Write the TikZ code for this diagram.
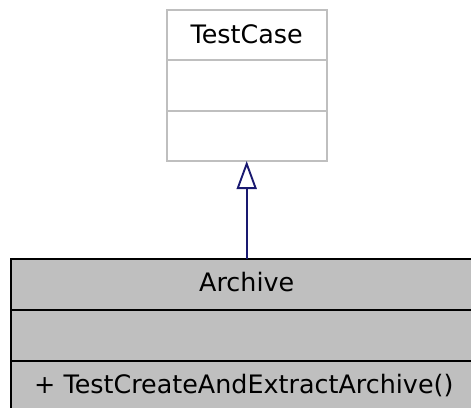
\documentclass[tikz,border=0pt]{standalone}
\usepackage{fontspec}
\setmainfont{DejaVu Sans}
\usetikzlibrary{arrows.meta}
\definecolor{boxgray}{HTML}{BFBFBF}
\definecolor{edgeblue}{HTML}{191970}
\begin{document}
\begin{tikzpicture}[x=1bp,y=-1bp,
  comp/.style={rectangle, anchor=north west, inner sep=0pt, outer sep=0pt},
  basecomp/.style={comp, draw=boxgray, fill=white, line width=1.9bp},
  derivcomp/.style={comp, draw=black, fill=boxgray, line width=1.9bp},
  lbl/.style={font=\fontsize{25.4bp}{29bp}\selectfont, inner sep=0pt, anchor=base},
  inherit/.style={draw=edgeblue, line width=1.9bp, -{Triangle[open, width=20bp, length=28bp, line width=1.9bp]}}]
\useasboundingbox (0,0) rectangle (471,407);
\clip (0,0) rectangle (471,407);
% TestCase
\node[basecomp, minimum width=160bp, minimum height=50.3bp] (tc1) at (166.7,10) {};
\node[basecomp, minimum width=160bp, minimum height=50.4bp] (tc2) at (166.7,60.3) {};
\node[basecomp, minimum width=160bp, minimum height=50.3bp] (tc3) at (166.7,110.7) {};
\node[lbl] (tct) at (246.7,43) {TestCase};
% Archive
\node[derivcomp, minimum width=470bp, minimum height=51bp] (ar1) at (11,259) {};
\node[derivcomp, minimum width=470bp, minimum height=50.7bp] (ar2) at (11,310) {};
\node[derivcomp, minimum width=470bp, minimum height=52bp] (ar3) at (11,360.7) {};
\node[lbl] (art) at (246.7,291) {Archive};
\node[lbl, anchor=base west] (arm) at (34,393.5) {+ TestCreateAndExtractArchive()};
% inheritance
\coordinate (src) at (246.7,259);
\coordinate (dst) at (246.7,161);
\draw[inherit] (src) -- (dst);
\end{tikzpicture}
\end{document}
